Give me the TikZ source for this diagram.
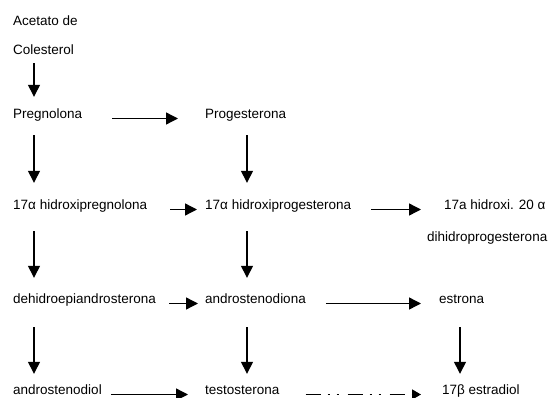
\documentclass[tikz,border=0pt]{standalone}
\usepackage{fontspec}
\setmainfont{Liberation Sans}
\usetikzlibrary{arrows.meta}

\begin{document}
\begin{tikzpicture}
  [x=1pt, y=-1pt,
   every node/.style={anchor=west, inner sep=0pt, text height=10pt, text depth=3pt,
                      font=\fontsize{13.5}{16}\selectfont},
   arr/.style={line width=1.4pt, -{Triangle[length=12pt,width=12pt]}},
   dashdot/.style={line width=1.6pt, dash pattern=on 15pt off 7pt on 2pt off 7pt on 2pt off 9pt,
                   -{Triangle[length=9pt,width=10pt]}}]
  \useasboundingbox (0,0) rectangle (551,398);
  \coordinate (colA) at (34,0);
  \coordinate (colB) at (247,0);
  \coordinate (colC) at (460,0);

  \node (acetato)  at (13,22)  {Acetato de};
  \node (coles)    at (13,51)  {Colesterol};
  \node (preg)     at (13,115) {Pregnolona};
  \node (prog)     at (205,115) {Progesterona};
  \node (hpreg)    at (13,206) {17α hidroxipregnolona};
  \node (hprog)    at (205,206) {17α hidroxiprogesterona};
  \node (hdih)     at (444,206) {17a hidroxi. 20 α};
  \node (dihidro)  at (427,238) {dihidroprogesterona};
  \node (dehidro)  at (13,300) {dehidroepiandrosterona};
  \node (andiona)  at (205,300) {androstenodiona};
  \node (estrona)  at (439,300) {estrona};
  \node (androl)   at (13,391) {androstenodiol};
  \node (testo)    at (205,391) {testosterona};
  \node (estradiol) at (442,391) {17β estradiol};

  \draw[arr, shorten <=5.5pt, shorten >=11.5pt] (coles.south -| colA) -- (preg.north -| colA);
  \draw[arr, shorten <=13.5pt, shorten >=16.5pt] (preg.south -| colA) -- (hpreg.north -| colA);
  \draw[arr, shorten <=13.5pt, shorten >=16.5pt] (prog.south -| colB) -- (hprog.north -| colB);
  \draw[arr, shorten <=18.5pt, shorten >=15.5pt] (hpreg.south -| colA) -- (dehidro.north -| colA);
  \draw[arr, shorten <=18.5pt, shorten >=15.5pt] (hprog.south -| colB) -- (andiona.north -| colB);
  \draw[arr, shorten <=20.5pt, shorten >=10.5pt] (dehidro.south -| colA) -- (androl.north -| colA);
  \draw[arr, shorten <=20.5pt, shorten >=10.5pt] (andiona.south -| colB) -- (testo.north -| colB);
  \draw[arr, shorten <=20.5pt, shorten >=10.5pt] (estrona.south -| colC) -- (estradiol.north -| colC);

  \draw[arr, shorten <=30pt, shorten >=27pt] (preg.base east) -- (prog.base west);
  \draw[arr, shorten <=23pt, shorten >=8pt] (hpreg.base east) -- (hprog.base west);
  \draw[arr, shorten <=20pt, shorten >=23pt] (hprog.base east) -- (hdih.base west);
  \draw[arr, shorten <=13pt, shorten >=7pt] (dehidro.base east) -- (andiona.base west);
  \draw[arr, shorten <=20pt, shorten >=18pt] (andiona.base east) -- (estrona.base west);
  \draw[arr, shorten <=9pt, shorten >=17pt] (androl.base east) -- (testo.base west);
  \draw[dashdot, shorten <=26pt, shorten >=21pt] (testo.base east) -- (estradiol.base west);
\end{tikzpicture}
\end{document}
